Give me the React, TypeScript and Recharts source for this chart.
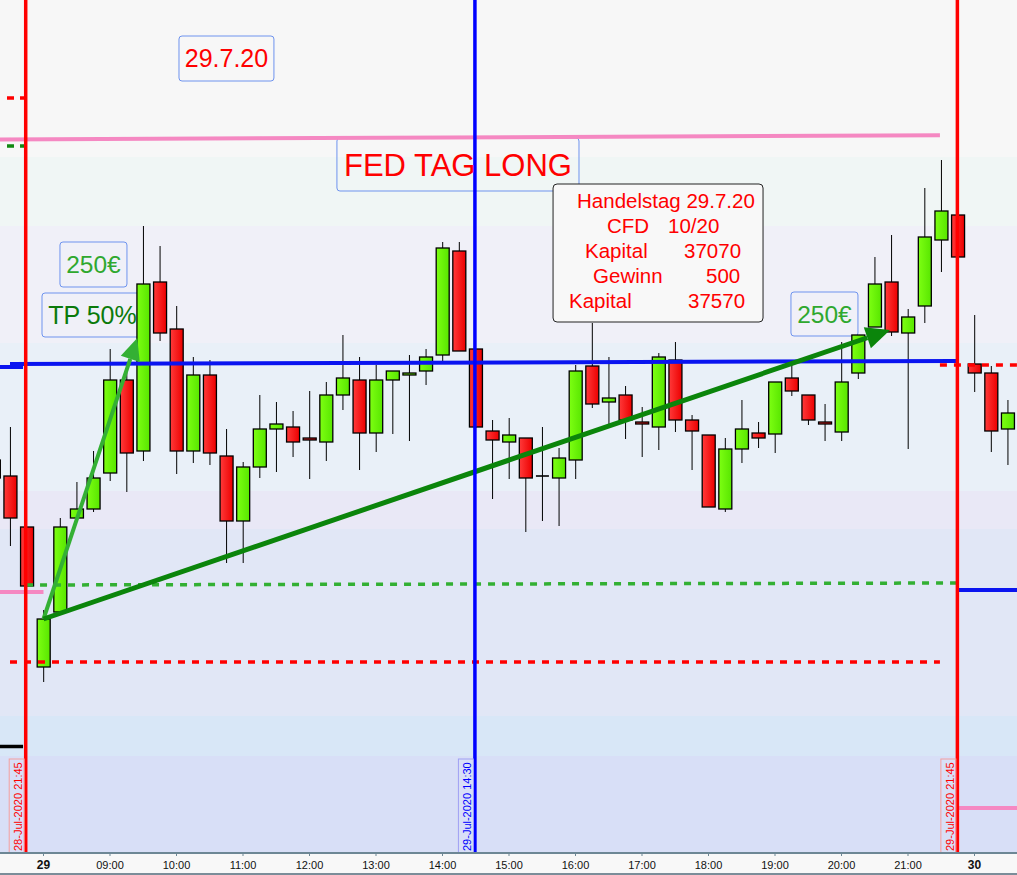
import { Bar, ComposedChart, ReferenceArea, ReferenceLine, XAxis, YAxis } from 'recharts'

const FONT = 'Arial, "Liberation Sans", sans-serif'

// 15 minute candles, slot 0 = 29.7. 08:00, slot 56 = 30.7. 08:00
const opens = [12540, 12524, 12473, 12333, 12388, 12482, 12491, 12527, 12620, 12549, 12718, 12671, 12549, 12625, 12544, 12479, 12533, 12571, 12573, 12562, 12558, 12605, 12620, 12567, 12620, 12625, 12629, 12645, 12749, 12651, 12569, 12558, 12562, 12524, 12522, 12540, 12634, 12598, 12605, 12578, 12573, 12640, 12580, 12565, 12491, 12551, 12567, 12566, 12622, 12605, 12578, 12568, 12627, 12673, 12718, 12667, 12694, 12760, 12785, 12636, 12627, 12571, 12585]
const highs = [12545, 12573, 12473, 12390, 12482, 12518, 12549, 12651, 12628, 12774, 12754, 12694, 12643, 12640, 12571, 12538, 12605, 12598, 12589, 12609, 12618, 12665, 12643, 12635, 12629, 12645, 12651, 12758, 12758, 12651, 12580, 12582, 12562, 12573, 12552, 12635, 12677, 12643, 12614, 12593, 12647, 12658, 12585, 12565, 12562, 12600, 12578, 12618, 12635, 12605, 12596, 12658, 12665, 12743, 12765, 12691, 12812, 12840, 12785, 12685, 12634, 12600, 12595]
const lows = [12518, 12454, 12414, 12318, 12388, 12482, 12488, 12519, 12508, 12539, 12659, 12526, 12537, 12535, 12437, 12437, 12522, 12528, 12543, 12521, 12539, 12590, 12530, 12548, 12566, 12559, 12615, 12638, 12649, 12572, 12501, 12521, 12468, 12479, 12474, 12521, 12592, 12573, 12561, 12543, 12550, 12568, 12530, 12493, 12488, 12537, 12552, 12547, 12604, 12575, 12559, 12559, 12621, 12673, 12664, 12551, 12677, 12728, 12743, 12608, 12548, 12535, 12473]
const closes = [12522, 12482, 12414, 12381, 12473, 12491, 12522, 12620, 12547, 12716, 12667, 12549, 12625, 12547, 12479, 12533, 12571, 12576, 12558, 12560, 12605, 12622, 12567, 12620, 12629, 12627, 12643, 12752, 12649, 12573, 12560, 12565, 12522, 12524, 12542, 12629, 12596, 12602, 12580, 12576, 12643, 12580, 12569, 12493, 12551, 12571, 12562, 12618, 12609, 12580, 12576, 12618, 12665, 12716, 12668, 12683, 12763, 12789, 12743, 12627, 12569, 12587, 12570]
const firstSlot = -3

const tickSlots = [0, 4, 8, 12, 16, 20, 24, 28, 32, 36, 40, 44, 48, 52, 56]
const tickLabels = ['29', '09:00', '10:00', '11:00', '12:00', '13:00', '14:00', '15:00', '16:00', '17:00', '18:00', '19:00', '20:00', '21:00', '30']

// background bands (price from / to, colour)
const bandTops = [13000, 12843, 12774, 12657, 12509, 12471, 12284, 12244]
const bandBottoms = [12843, 12774, 12657, 12509, 12471, 12284, 12244, 12147]
const bandColors = ['#f7f7f7', '#f0f6f5', '#f0f0f8', '#e9f0f8', '#e9e8f6', '#e1e7f6', '#d8e7f7', '#d8dff7']

const infoLines = [
  ['Handelstag 29.7.20', ''],
  ['CFD', '10/20'],
  ['Kapital', '37070'],
  ['Gewinn', '500'],
  ['Kapital', '37570'],
]

const candles = opens.map((o, k) => ({
  slot: firstSlot + k,
  o,
  h: highs[k],
  l: lows[k],
  c: closes[k],
}))

function Candle(props: any) {
  const { x, y, width, height, payload } = props
  if (payload == null || height == null) return null
  const { o, h, l, c } = payload
  const ratio = h === l ? 0 : height / (h - l)
  const cx = x + width / 2
  const top = y + (h - Math.max(o, c)) * ratio
  const bottom = y + (h - Math.min(o, c)) * ratio
  const up = c >= o
  return (
    <g>
      <line x1={cx} x2={cx} y1={y} y2={y + height} stroke="#000" strokeWidth={1} />
      {bottom - top < 0.8 ? (
        <line x1={x} x2={x + width} y1={top} y2={top} stroke="#000" strokeWidth={1.6} />
      ) : (
        <rect
          x={x}
          y={top}
          width={width}
          height={bottom - top}
          fill={up ? 'url(#candleUp)' : 'url(#candleDown)'}
          stroke="#000"
          strokeWidth={1.3}
        />
      )}
    </g>
  )
}

function Arrow(props: any) {
  const { x1, y1, x2, y2, stroke, strokeWidth, headLen, headWidth } = props
  const dx = x2 - x1
  const dy = y2 - y1
  const len = Math.sqrt(dx * dx + dy * dy) || 1
  const ux = dx / len
  const uy = dy / len
  const bx = x2 - ux * headLen
  const by = y2 - uy * headLen
  const px = -uy * (headWidth / 2)
  const py = ux * (headWidth / 2)
  return (
    <g>
      <line x1={x1} y1={y1} x2={bx} y2={by} stroke={stroke} strokeWidth={strokeWidth} />
      <polygon points={`${x2},${y2} ${bx + px},${by + py} ${bx - px},${by - py}`} fill={stroke} />
    </g>
  )
}

function StampLabel({ viewBox, text, color, border }: any) {
  if (!viewBox) return null
  const x = viewBox.x
  const bottom = viewBox.y + viewBox.height
  return (
    <g>
      <rect x={x - 16.5} y={bottom - 94} width={15} height={94} fill="none" stroke={border} strokeWidth={1} />
      <text
        transform={`translate(${x - 3.5},${bottom - 2}) rotate(-90)`}
        fill={color}
        fontSize={11}
        fontFamily={FONT}
      >
        {text}
      </text>
    </g>
  )
}

function InfoText({ viewBox }: any) {
  if (!viewBox) return null
  const { x, y } = viewBox
  const labelX = [24, 54, 32, 40, 16]
  const valueX = [0, 115, 131, 153, 135]
  return (
    <g fontFamily={FONT} fontSize={20.5} fill="#ff0000">
      {infoLines.map((line, k) => (
        <g key={k}>
          <text x={x + labelX[k]} y={y + 24 + k * 25}>{line[0]}</text>
          {line[1] ? <text x={x + valueX[k]} y={y + 24 + k * 25}>{line[1]}</text> : null}
        </g>
      ))}
    </g>
  )
}

function TimeTick({ x, y, payload }: any) {
  const label = tickLabels[tickSlots.indexOf(payload.value)] ?? ''
  const bold = label.length <= 2
  return (
    <text
      x={x}
      y={y + 11}
      textAnchor="middle"
      fontFamily={FONT}
      fontSize={bold ? 12 : 11}
      fontWeight={bold ? 700 : 400}
      fill="#111"
    >
      {label}
    </text>
  )
}

export default function App() {
  return (
    <div style={{ width: 1017, height: 873, background: '#f8f8f8', borderBottom: '2px solid #7b8d99', overflow: 'hidden' }}>
      <style>{'body{margin:0}'}</style>
      <svg width={0} height={0} style={{ position: 'absolute' }}>
        <defs>
          <linearGradient id="candleUp" x1="0" y1="0" x2="1" y2="0">
            <stop offset="0%" stopColor="#7dff12" />
            <stop offset="100%" stopColor="#58e600" />
          </linearGradient>
          <linearGradient id="candleDown" x1="0" y1="0" x2="1" y2="0">
            <stop offset="0%" stopColor="#ff3a3a" />
            <stop offset="100%" stopColor="#ec0000" />
          </linearGradient>
        </defs>
      </svg>
      <ComposedChart width={1017} height={873} data={candles} margin={{ top: 0, right: 0, bottom: 0, left: 0 }}>
        <XAxis
          type="number"
          dataKey="slot"
          domain={[-2.6165, 58.556]}
          allowDataOverflow
          ticks={tickSlots}
          interval={0}
          tick={<TimeTick />}
          tickSize={3}
          height={20}
          axisLine={{ stroke: '#6d8795', strokeWidth: 2 }}
          tickLine={{ stroke: '#6d8795' }}
        />
        <YAxis hide domain={[12147, 13000]} allowDataOverflow />

        {bandTops.map((top, k) => (
          <ReferenceArea key={`band-${k}`} y1={bandBottoms[k]} y2={top} fill={bandColors[k]} fillOpacity={1} stroke="none" ifOverflow="hidden" />
        ))}

        <ReferenceArea
          x1={8.15} x2={13.86} y1={12919} y2={12964}
          fill="none" stroke="#6e93ee" radius={3} ifOverflow="visible"
          label={{ value: '29.7.20', position: 'center', fill: '#ff0000', fontSize: 25, fontFamily: FONT }}
        />
        <ReferenceArea
          x1={17.65} x2={32.21} y1={12809} y2={12862}
          fill="none" stroke="#6e93ee" radius={3} ifOverflow="visible"
          label={{ value: 'FED TAG LONG', position: 'center', fill: '#ff0000', fontSize: 31, fontFamily: FONT }}
        />
        <ReferenceArea
          x1={0.99} x2={5.02} y1={12713} y2={12758}
          fill="none" stroke="#6e93ee" radius={3} ifOverflow="visible"
          label={{ value: '250€', position: 'center', fill: '#2fa82f', fontSize: 24.5, fontFamily: FONT }}
        />
        <ReferenceArea
          x1={-0.09} x2={5.98} y1={12663} y2={12707}
          fill="none" stroke="#6e93ee" radius={3} ifOverflow="visible"
          label={{ value: 'TP 50%', position: 'center', fill: '#0b7a0b', fontSize: 25, fontFamily: FONT }}
        />
        <ReferenceArea
          x1={44.96} x2={48.99} y1={12664} y2={12708}
          fill="none" stroke="#6e93ee" radius={3} ifOverflow="visible"
          label={{ value: '250€', position: 'center', fill: '#2fa82f', fontSize: 24.5, fontFamily: FONT }}
        />

        <Bar dataKey={(d: any) => [d.l, d.h]} barSize={13} shape={<Candle />} isAnimationActive={false} />

        <ReferenceArea
          x1={30.65} x2={43.28} y1={12678} y2={12816}
          fill="#f8f8f8" fillOpacity={1} stroke="#222" strokeWidth={1} radius={4} ifOverflow="visible"
          label={<InfoText />}
        />

        {/* horizontal levels */}
        <ReferenceLine segment={[{ x: -2.6165, y: 12860.5 }, { x: 53.92, y: 12864.7 }]} stroke="#f588c2" strokeWidth={4} ifOverflow="hidden" />
        <ReferenceLine segment={[{ x: -2.6165, y: 12408 }, { x: 0, y: 12408 }]} stroke="#f588c2" strokeWidth={4} ifOverflow="hidden" />
        <ReferenceLine segment={[{ x: 55, y: 12192 }, { x: 58.556, y: 12192 }]} stroke="#f588c2" strokeWidth={4} ifOverflow="hidden" />
        <ReferenceLine segment={[{ x: -2.6165, y: 12633 }, { x: -1.23, y: 12633 }]} stroke="#0a14f0" strokeWidth={4} ifOverflow="hidden" />
        <ReferenceLine segment={[{ x: -2.015, y: 12636 }, { x: 54.95, y: 12639 }]} stroke="#0a14f0" strokeWidth={4} ifOverflow="hidden" />
        <ReferenceLine segment={[{ x: 55, y: 12410 }, { x: 58.556, y: 12410 }]} stroke="#0a14f0" strokeWidth={4} ifOverflow="hidden" />
        <ReferenceLine segment={[{ x: -1.05, y: 12415 }, { x: 54.92, y: 12417 }]} stroke="#33b033" strokeWidth={3.5} strokeDasharray="7 7" ifOverflow="hidden" />
        <ReferenceLine segment={[{ x: -2.015, y: 12338 }, { x: 53.92, y: 12338 }]} stroke="#ff0000" strokeWidth={3.5} strokeDasharray="7 7" ifOverflow="hidden" />
        <ReferenceLine segment={[{ x: 53.92, y: 12635 }, { x: 58.556, y: 12635 }]} stroke="#ff0000" strokeWidth={3.5} strokeDasharray="7 7" ifOverflow="hidden" />
        <ReferenceLine segment={[{ x: -2.195, y: 12902 }, { x: -1.11, y: 12902 }]} stroke="#ff0000" strokeWidth={3.5} strokeDasharray="7 6" ifOverflow="hidden" />
        <ReferenceLine segment={[{ x: -2.195, y: 12854 }, { x: -1.11, y: 12854 }]} stroke="#118811" strokeWidth={3.5} strokeDasharray="7 6" ifOverflow="hidden" />
        <ReferenceLine segment={[{ x: -2.6165, y: 12253.5 }, { x: -1.23, y: 12253.5 }]} stroke="#000" strokeWidth={3.5} ifOverflow="hidden" />

        {/* trade arrows */}
        <ReferenceLine
          segment={[{ x: 0, y: 12381 }, { x: 5.64, y: 12662 }]}
          stroke="#34b034" strokeWidth={4} ifOverflow="hidden"
          shape={(p: any) => <Arrow {...p} headLen={22} headWidth={20} />}
        />
        <ReferenceLine
          segment={[{ x: 0, y: 12381 }, { x: 50.92, y: 12670 }]}
          stroke="#0b850b" strokeWidth={5} ifOverflow="hidden"
          shape={(p: any) => <Arrow {...p} headLen={24} headWidth={22} />}
        />

        {/* session markers */}
        <ReferenceLine x={-1.07} stroke="#ff0000" strokeWidth={3.5} ifOverflow="hidden"
          label={<StampLabel text="28-Jul-2020 21:45" color="#ff0000" border="#f4a0a0" />} />
        <ReferenceLine x={25.95} stroke="#0000ff" strokeWidth={3.5} ifOverflow="hidden"
          label={<StampLabel text="29-Jul-2020 14:30" color="#0000ff" border="#a0a0f4" />} />
        <ReferenceLine x={54.97} stroke="#ff0000" strokeWidth={3.5} ifOverflow="hidden"
          label={<StampLabel text="29-Jul-2020 21:45" color="#ff0000" border="#f4a0a0" />} />
      </ComposedChart>
    </div>
  )
}
